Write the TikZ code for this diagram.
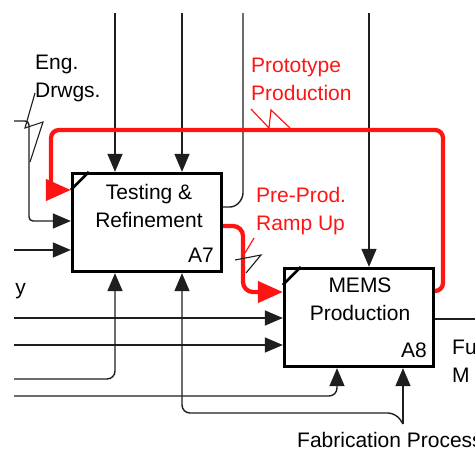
\documentclass[tikz,border=0pt]{standalone}
\usepackage{fontspec}
\setmainfont{Liberation Sans}
\usetikzlibrary{arrows.meta,calc}

\definecolor{idefred}{RGB}{255,20,20}
\definecolor{idefgray}{RGB}{30,30,30}

\tikzset{
  actbox/.style={draw=black, line width=3.3pt, minimum width=149pt, minimum height=98pt, inner sep=0pt},
  line/.style={draw=idefgray, line width=1.4pt},
  flow/.style={line, -{Triangle[length=18pt,width=15pt]}},
  redflow/.style={draw=idefred, line width=4.3pt, -{Triangle[length=25pt,width=21pt]}},
  redline/.style={draw=idefred, line width=1.2pt},
  squig/.style={draw=idefgray, line width=1.1pt},
  lbl/.style={font=\fontsize{21}{28}\selectfont, inner sep=0pt},
}

\begin{document}
\begin{tikzpicture}[x=1pt,y=-1pt]
  \useasboundingbox (0,0) rectangle (475,450);
  \clip (0,0) rectangle (475,450);

  % Activity boxes
  \node[actbox] (a7) at (147,222.5) {};
  \node[actbox] (a8) at (359,317.5) {};
  \draw[line width=2.6pt] ([yshift=-18pt]a7.north west) -- ([xshift=18pt]a7.north west);
  \draw[line width=2.6pt] ([yshift=-18pt]a8.north west) -- ([xshift=18pt]a8.north west);
  \node[lbl, anchor=north, align=center] (a7txt) at (149,184) {Testing \&\\Refinement};
  \node[lbl, anchor=north east] (a7num) at (214,248) {A7};
  \node[lbl, anchor=north, align=center] (a8txt) at (360,278) {MEMS\\Production};
  \node[lbl, anchor=north east] (a8num) at (427,343) {A8};

  % Arrow labels
  \node[lbl, anchor=north west, align=left] (eng) at (35,55) {Eng.\\Drwgs.};
  \node[lbl, text=idefred, anchor=north west, align=left] (proto) at (251,58) {Prototype\\Production};
  \node[lbl, text=idefred, anchor=north west, align=left] (ramp) at (256,187) {Pre-Prod.\\Ramp Up};
  \node[lbl, anchor=north west] (fab) at (297,432) {Fabrication Process};
  \node[lbl, anchor=north west, align=left] (func) at (452,340) {Fu\\M};
  \node[lbl, anchor=base east] (supply) at (26,294) {y};

  % Free ends
  \coordinate (c1) at (115,13);
  \coordinate (c2) at (182,13);
  \coordinate (o1) at (243,13);
  \coordinate (c3) at (369,13);
  \coordinate (e0) at (14,121);
  \coordinate (e1) at (29,121);
  \coordinate (e2) at (29,221);
  \coordinate (i1) at (14,250);
  \coordinate (i2) at (14,318);
  \coordinate (i3) at (14,345);
  \coordinate (m1) at (14,379);
  \coordinate (m2) at (14,396);
  \coordinate (f0) at (403,424);
  \coordinate (out) at (475,319);

  % Controls
  \draw[flow] (c1) -- (c1 |- a7.north);
  \draw[flow] (c2) -- (c2 |- a7.north);
  \draw[flow] (c3) -- (c3 |- a8.north);

  % A7 output going up
  \coordinate (o0) at (235,207);
  \draw[line, rounded corners=5pt] (a7.east |- o0) -- (o0) -- (243,198) -- (o1);

  % Prototype production loop
  \coordinate (p0) at (443,291);
  \coordinate (p1) at (443,130);
  \coordinate (p2) at (51,130);
  \coordinate (p3) at (51,190);
  \draw[redflow, rounded corners=8pt] (a8.east |- p0) -- (p0) -- (p1) -- (p2) -- (p3) -- (a7.west |- p3);

  % Pre-prod. ramp up
  \coordinate (r0) at (243,226);
  \coordinate (r1) at (243,292);
  \draw[redflow, rounded corners=10pt] (a7.east |- r0) -- (r0) -- (r1) -- (a8.west |- r1);

  % Inputs
  \draw[flow, rounded corners=4pt] (e0) -- (e1) -- (e2) -- (a7.west |- e2);
  \draw[flow] (i1) -- (a7.west |- i1);
  \draw[flow] (i2) -- (a8.west |- i2);
  \draw[flow] (i3) -- (a8.west |- i3);

  % Mechanisms
  \coordinate (m1b) at (115,379);
  \draw[flow, rounded corners=8pt] (m1) -- (m1b) -- (m1b |- a7.south);
  \coordinate (m2b) at (337,396);
  \draw[flow, rounded corners=8pt] (m2) -- (m2b) -- (m2b |- a8.south);
  \draw[flow] (f0) -- (f0 |- a8.south);
  \coordinate (f1) at (396,413);
  \coordinate (f2) at (182,413);
  \draw[flow, rounded corners=8pt] (f0) -- (f1) -- (f2) -- (f2 |- a7.south);

  % Output
  \draw[line] (a8.east |- out) -- (out);

  % Squiggles
  \draw[squig] (35,93) -- (25,128) -- (43,122) -- (30,162);
  \draw[redline] (251,109) -- (269,128) -- (271,110) -- (290,128);
  \draw[redline] (254,238) -- (245,253);
  \draw[squig] (235,260) -- (261,255) -- (246,273);
\end{tikzpicture}
\end{document}
